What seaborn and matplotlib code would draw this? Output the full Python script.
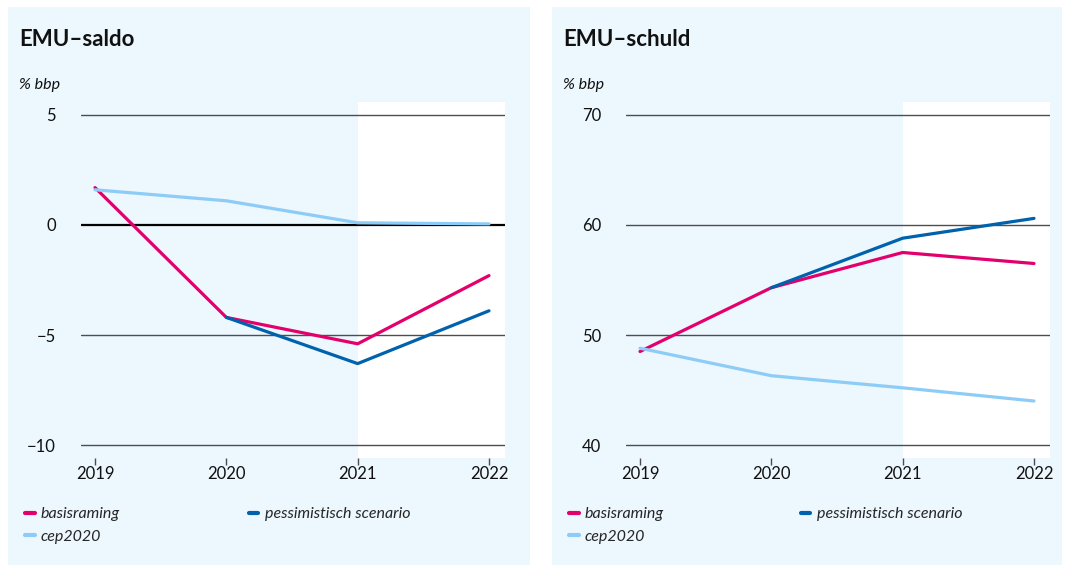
import matplotlib
matplotlib.use("Agg")
import matplotlib.pyplot as plt
from matplotlib.patches import Rectangle
from matplotlib.lines import Line2D
import seaborn as sns
import pandas as pd

# ---- data ----
years = [2019, 2020, 2021, 2022]
saldo_basis = [1.7, -4.2, -5.4, -2.3]
saldo_pessim = [None, -4.2, -6.3, -3.9]
saldo_cep = [1.6, 1.1, 0.1, 0.05]
schuld_basis = [48.5, 54.3, 57.5, 56.5]
schuld_pessim = [None, 54.3, 58.8, 60.6]
schuld_cep = [48.8, 46.3, 45.2, 44.0]
series_names = ["basisraming", "pessimistisch scenario", "cep2020"]
titles = ["EMU\u2013saldo", "EMU\u2013schuld"]
unit = "% bbp"
saldo_ticks = [-10, -5, 0, 5]
schuld_ticks = [40, 50, 60, 70]

colors = {"basisraming": "#e3006d", "pessimistisch scenario": "#0061ad", "cep2020": "#8dccf6"}
BG = "#ecf7fe"

sns.set_theme(style="white")
plt.rcParams["font.family"] = ["Lato", "DejaVu Sans"]

W, H = 1065, 566
fig = plt.figure(figsize=(W / 100, H / 100), dpi=100)
fig.patch.set_facecolor("white")

def fx(px):
    return px / W

def fy(py):
    return 1 - py / H

def long_df(b, p, c):
    rows = []
    for name, vals in zip(series_names, [b, p, c]):
        for y, v in zip(years, vals):
            if v is not None:
                rows.append({"jaar": y, "waarde": v, "reeks": name})
    return pd.DataFrame(rows)

panels = [
    dict(px0=8, px1=530, ax0=81, ax1=505, data=long_df(saldo_basis, saldo_pessim, saldo_cep),
         ticks=saldo_ticks, ylim=(-10.59, 5.59), zero=True, title=titles[0], colsp=8.05),
    dict(px0=552, px1=1062, ax0=626, ax1=1050, data=long_df(schuld_basis, schuld_pessim, schuld_cep),
         ticks=schuld_ticks, ylim=(38.82, 71.18), zero=False, title=titles[1], colsp=8.55),
]

top_px, bot_px = 102, 458
for p in panels:
    fig.patches.append(Rectangle((fx(p["px0"]), fy(565)), fx(p["px1"] - p["px0"]), (565 - 7) / H,
                                 transform=fig.transFigure, facecolor=BG, edgecolor="none", zorder=0))
    ax = fig.add_axes([fx(p["ax0"]), fy(bot_px), fx(p["ax1"] - p["ax0"]), (bot_px - top_px) / H])
    ax.set_facecolor(BG)
    ax.set_zorder(1)
    xl = (2019 - 14 / 131.3, 2022 + 16 / 131.3)
    ax.axvspan(2021, xl[1], color="white", zorder=0, lw=0)
    for t in p["ticks"]:
        if p["zero"] and t == 0:
            ax.axhline(t, color="black", lw=1.6, zorder=1)
        else:
            ax.axhline(t, color="#4d4d4d", lw=1.0, zorder=1)
    sns.lineplot(data=p["data"], x="jaar", y="waarde", hue="reeks", hue_order=series_names,
                 palette=colors, lw=2.3, ax=ax, legend=False, zorder=3, sort=False)
    ax.set_xlim(*xl)
    ax.set_ylim(*p["ylim"])
    ax.set_xticks(years)
    ax.set_xticklabels([str(y) for y in years])
    ax.set_yticks(p["ticks"])
    ax.set_yticklabels([str(t).replace("-", "\u2212") for t in p["ticks"]])
    for s in ax.spines.values():
        s.set_visible(False)
    ax.tick_params(axis="x", bottom=True, direction="out", length=5, width=1, color="#4d4d4d",
                   labelsize=12, pad=1, colors="#4d4d4d", labelcolor="#111111")
    ax.tick_params(axis="y", left=False, labelsize=12, pad=12, labelcolor="#111111")
    ax.set_xlabel("")
    ax.set_ylabel("")
    ax.grid(False)
    # title and unit
    fig.text(fx(p["px0"] + 11), fy(40), p["title"], fontsize=16, fontweight="bold",
             va="center", ha="left", color="#111111")
    fig.text(fx(p["px0"] + 11), fy(85), unit, fontsize=11.5, style="italic",
             va="center", ha="left", color="#111111")
    handles = [Line2D([0], [0], color=colors[n], lw=3, solid_capstyle="round") for n in
               ["basisraming", "cep2020", "pessimistisch scenario"]]
    labels = ["basisraming", "cep2020", "pessimistisch scenario"]
    fig.legend(handles, labels, loc="upper left",
               bbox_to_anchor=(fx(p["px0"] + 17), fy(507)), ncol=2, frameon=False,
               handlelength=0.6, handletextpad=0.4, columnspacing=p["colsp"],
               labelspacing=0.52, borderaxespad=0, borderpad=0,
               prop={"size": 11.5, "style": "italic"})

fig.savefig("out.png", dpi=100, facecolor="white")
